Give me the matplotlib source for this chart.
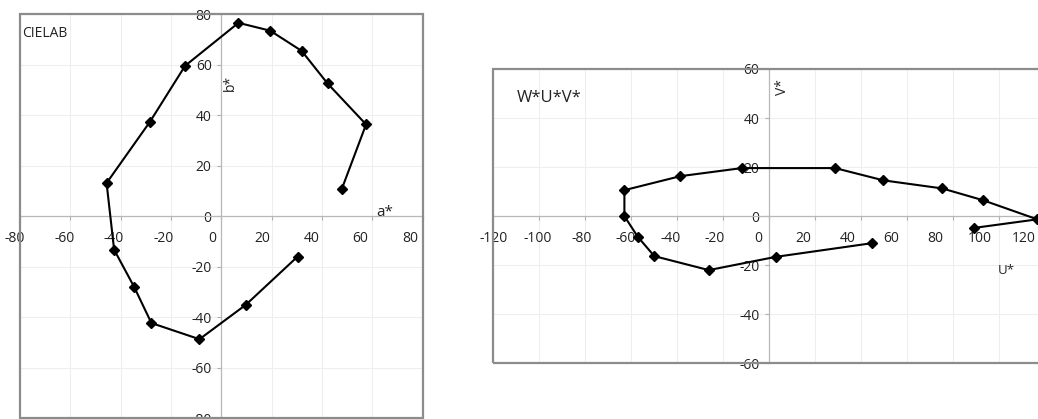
import matplotlib
matplotlib.use('Agg')
import matplotlib.pyplot as plt
from matplotlib.patches import Rectangle
from matplotlib.transforms import ScaledTranslation

plt.rcParams['font.family'] = ['Open Sans', 'DejaVu Sans']
plt.rcParams['axes.unicode_minus'] = False

# CIELAB locus (a*, b*)
lab_a = [30.3, 9.7, -8.7, -27.8, -34.7, -42.6, -45.6, -28.4, -14.4,
         6.8, 19.4, 31.9, 42.2, 57.5, 47.8]
lab_b = [-16.0, -35.1, -48.7, -42.3, -27.9, -13.3, 13.1, 37.3, 59.5,
         76.5, 73.4, 65.4, 52.5, 36.3, 10.6]

# W*U*V* locus (U*, V*)
uvw_u = [44.8, 2.8, -26.3, -50.0, -57.2, -63.0, -63.0, -38.7, -11.9,
         28.6, 49.6, 75.2, 92.9, 116.5, 89.0]
uvw_v = [-11.0, -16.6, -22.0, -16.3, -8.4, 0.0, 10.6, 16.3, 19.6,
         19.6, 14.6, 11.3, 6.5, -1.3, -4.8]

lab_ticks = list(range(-80, 81, 20))
uvw_xticks = list(range(-120, 121, 20))
uvw_yticks = list(range(-60, 61, 20))

W, H = 1038, 419
fig = plt.figure(figsize=(W / 100, H / 100), dpi=100)


def px_axes(left, top, right, bottom):
    return fig.add_axes([left / W, 1 - bottom / H, (right - left) / W, (bottom - top) / H])


def style(ax, xticks, yticks):
    # axis lines cross at the origin, outer frame drawn separately
    ax.spines['left'].set_position(('data', 0))
    ax.spines['bottom'].set_position(('data', 0))
    for s in ('left', 'bottom'):
        ax.spines[s].set_color('#b8b8b8')
        ax.spines[s].set_linewidth(0.9)
    ax.spines['top'].set_visible(False)
    ax.spines['right'].set_visible(False)
    ax.add_patch(Rectangle((0, 0), 1, 1, transform=ax.transAxes, fill=False,
                           edgecolor='#8c8c8c', linewidth=1.6, clip_on=False, zorder=5))
    ax.set_xticks(xticks)
    ax.set_yticks(yticks)
    ax.grid(True, color='#eeeeee', linewidth=0.8)
    ax.set_axisbelow(True)
    ax.tick_params(axis='both', direction='out', length=3, width=0.8,
                   color='#b0b0b0', labelsize=10, labelcolor='#222222')
    ax.tick_params(axis='x', pad=8)
    ax.tick_params(axis='y', pad=4)


def nudge_xlabels(ax, start, slope):
    # x labels sit slightly left of their ticks, more so towards the right
    lo = ax.get_xlim()[0]
    for v, lbl in zip(ax.get_xticks(), ax.get_xticklabels()):
        dx = -(start + slope * (v - lo)) / 100
        lbl.set_transform(lbl.get_transform() + ScaledTranslation(dx, 0, fig.dpi_scale_trans))


# left panel: CIELAB
ax1 = px_axes(20, 14, 422.7, 418.3)
ax1.set_xlim(-80, 80)
ax1.set_ylim(-80, 80)
style(ax1, lab_ticks, lab_ticks)
ax1.plot(lab_a, lab_b, color='black', linewidth=1.5, marker='D',
         markersize=5, markerfacecolor='black', zorder=4)
nudge_xlabels(ax1, 5, 0.048)
ax1.text(0.005, 0.953, 'CIELAB', transform=ax1.transAxes, fontsize=10,
         ha='left', va='center', color='#222222')
ax1.text(0.906, 0.508, 'a*', transform=ax1.transAxes, fontsize=11,
         ha='center', va='center', color='#222222')
ax1.text(0.522, 0.829, 'b*', transform=ax1.transAxes, fontsize=10,
         rotation=90, ha='center', va='center', color='#222222')

# right panel: W*U*V*
ax2 = px_axes(493.3, 69, 1091.3, 363.3)
ax2.set_xlim(-120, 140)
ax2.set_ylim(-60, 60)
style(ax2, uvw_xticks, uvw_yticks)
# gridline at 140 falls on the frame, no label there
ax2.plot(uvw_u, uvw_v, color='black', linewidth=1.5, marker='D',
         markersize=5, markerfacecolor='black', zorder=4)
nudge_xlabels(ax2, 0, 0.088)
ax2.text(0.039, 0.900, 'W*U*V*', transform=ax2.transAxes, fontsize=12,
         ha='left', va='center', color='#222222')
ax2.text(0.484, 0.940, 'V*', transform=ax2.transAxes, fontsize=10,
         rotation=90, ha='center', va='center', color='#222222')
ax2.text(0.857, 0.315, 'U*', transform=ax2.transAxes, fontsize=9.5,
         ha='center', va='center', color='#222222')

fig.savefig('out.png', dpi=100)
